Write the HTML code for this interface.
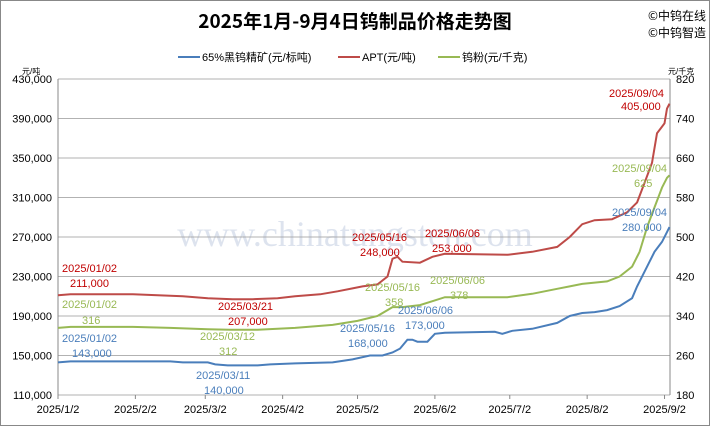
<!DOCTYPE html><html><head><meta charset="utf-8"><style>
body{margin:0;background:#fff}
svg{display:block;font-family:"Liberation Sans","Noto Sans CJK SC",sans-serif}
</style></head><body>
<svg id="s" width="710" height="426" viewBox="0 0 710 426">
<rect x="0.5" y="0.5" width="709" height="425" fill="#fff" stroke="#888"/>
<text x="355" y="28" text-anchor="middle" font-size="19" font-weight="bold" font-family="'Noto Sans CJK SC',sans-serif">2025年1月-9月4日钨制品价格走势图</text>
<text x="648" y="20" font-size="12" font-family="'Noto Sans CJK SC',sans-serif">©中钨在线</text>
<text x="648" y="37" font-size="12" font-family="'Noto Sans CJK SC',sans-serif">©中钨智造</text>
<line x1="178" y1="57" x2="200" y2="57" stroke="#4a7ebb" stroke-width="2"/><text x="202" y="61" font-size="11">65%黑钨精矿(元/标吨)</text>
<line x1="338" y1="57" x2="360" y2="57" stroke="#be4b48" stroke-width="2"/><text x="362" y="61" font-size="11">APT(元/吨)</text>
<line x1="438" y1="57" x2="460" y2="57" stroke="#98b954" stroke-width="2"/><text x="462" y="61" font-size="11">钨粉(元/千克)</text>
<text x="22" y="74" font-size="8">元/吨</text><text x="668" y="74" font-size="8">元/千克</text>
<text x="355" y="246" text-anchor="middle" font-size="36" fill="#dde3ee" font-family="'Liberation Serif',serif">www.chinatungsten.com</text>
<g id="g"></g>
</svg>
<script>
var s=document.getElementById('g'),h='';
var X=function(d){return 58+d*2.496},Y=function(v){return 79+(430-v)/320*316},R=function(p){return 79+(820-p)/640*316};
for(var i=0;i<=8;i++){var y=79+i*39.5;h+='<line x1="58" x2="670" y1="'+y+'" y2="'+y+'" stroke="#999" stroke-width="0.8"/>';
h+='<text x="52" y="'+(y+4)+'" text-anchor="end" font-size="11">'+((430-i*40)+',000')+'</text>';
h+='<text x="676" y="'+(y+4)+'" font-size="11">'+(820-i*80)+'</text>';}
h+='<line x1="58" x2="58" y1="79" y2="395" stroke="#888"/><line x1="670" x2="670" y1="79" y2="395" stroke="#888"/>';
var tk=[[0,'2025/1/2'],[31,'2025/2/2'],[59,'2025/3/2'],[90,'2025/4/2'],[120,'2025/5/2'],[151,'2025/6/2'],[181,'2025/7/2'],[212,'2025/8/2'],[243,'2025/9/2']];
tk.forEach(function(t){var x=X(t[0]);h+='<line x1="'+x+'" x2="'+x+'" y1="395" y2="399" stroke="#888"/><text x="'+x+'" y="413" text-anchor="middle" font-size="11">'+t[1]+'</text>';});
function pl(a,f,c){return '<polyline fill="none" stroke="'+c+'" stroke-width="2" points="'+a.map(function(p){return X(p[0]).toFixed(1)+','+f(p[1]).toFixed(1)}).join(' ')+'"/>';}
var B=[[0,143],[5,144],[45,144],[50,143],[60,143],[63,141],[68,140],[80,140],[85,141],[95,142],[110,143],[118,146],[125,150],[130,150],[134,153],[137,157],[140,166],[142,166],[144,164],[148,164],[151,172],[155,173],[175,174],[178,172],[182,175],[190,177],[200,183],[205,190],[210,193],[215,194],[220,196],[225,200],[230,208],[232,220],[236,240],[239,255],[242,265],[244,275],[245,280]];
var A=[[0,211],[5,212],[30,212],[40,211],[50,210],[60,208],[70,207],[78,207],[88,208],[95,210],[105,212],[112,215],[118,218],[122,220],[128,222],[132,230],[134,248],[136,250],[138,245],[145,244],[150,250],[155,253],[180,252],[190,255],[200,260],[205,270],[210,283],[215,287],[222,288],[228,295],[232,305],[235,325],[238,345],[240,375],[243,385],[244,400],[245,405]];
var G=[[0,316],[5,318],[30,318],[45,316],[60,313],[69,312],[80,312],[95,316],[110,322],[120,330],[128,340],[132,352],[134,358],[138,358],[145,362],[150,370],[155,378],[180,378],[190,385],[200,395],[205,400],[210,405],[220,410],[225,420],[230,440],[233,470],[236,520],[239,560],[242,600],[244,620],[245,625]];
h+=pl(B,Y,'#4a7ebb')+pl(A,Y,'#be4b48')+pl(G,R,'#98b954');
var L=[['#c00000',609,97,'2025/09/04'],['#c00000',621,110,'405,000'],['#98b954',612,172,'2025/09/04'],['#98b954',634,187,'625'],['#4a7ebb',612,216,'2025/09/04'],['#4a7ebb',622,231,'280,000'],
['#c00000',62,272,'2025/01/02'],['#c00000',70,287,'211,000'],['#98b954',62,308,'2025/01/02'],['#98b954',82,324,'316'],['#4a7ebb',62,342,'2025/01/02'],['#4a7ebb',72,357,'143,000'],
['#c00000',218,310,'2025/03/21'],['#c00000',228,325,'207,000'],['#98b954',200,340,'2025/03/12'],['#98b954',219,355,'312'],['#4a7ebb',196,379,'2025/03/11'],['#4a7ebb',204,394,'140,000'],
['#c00000',352,241,'2025/05/16'],['#c00000',360,256,'248,000'],['#98b954',365,291,'2025/05/16'],['#98b954',385,306,'358'],['#4a7ebb',340,332,'2025/05/16'],['#4a7ebb',348,347,'168,000'],
['#c00000',425,237,'2025/06/06'],['#c00000',432,252,'253,000'],['#98b954',430,284,'2025/06/06'],['#98b954',450,299,'378'],['#4a7ebb',398,314,'2025/06/06'],['#4a7ebb',405,329,'173,000']];
L.forEach(function(l){h+='<text x="'+l[1]+'" y="'+l[2]+'" font-size="11" fill="'+l[0]+'">'+l[3]+'</text>';});
s.innerHTML=h;
</script></body></html>
